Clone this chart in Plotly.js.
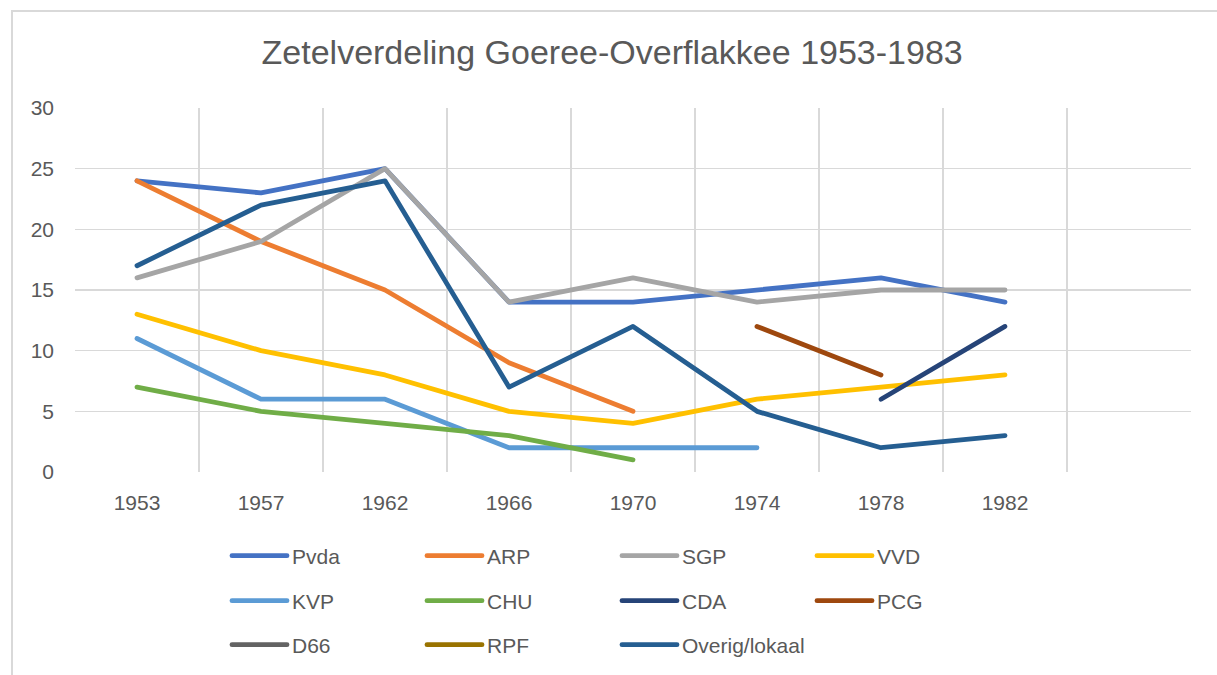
<!DOCTYPE html>
<html>
<head>
<meta charset="utf-8">
<script src="https://cdn.plot.ly/plotly-3.0.1.min.js"></script>
<style>
  html, body { margin: 0; padding: 0; background: #ffffff; }
  #frame { position: absolute; left: 11px; top: 10px; width: 1400px; height: 900px;
           border-left: 2px solid #D9D9D9; border-top: 2px solid #D9D9D9; z-index: 0; }
  #chart { position: absolute; left: 0; top: 0; width: 1217px; height: 675px; z-index: 1; }
  #chart path.js-line { stroke-linecap: round !important; stroke-linejoin: round !important; }
</style>
</head>
<body>
<div id="frame"></div>
<div id="chart"></div>
<script>
// ---- data ----
const years = ['1953', '1957', '1962', '1966', '1970', '1974', '1978', '1982'];
const pvda   = [24, 23, 25, 14, 14, 15, 16, 14];
const arp    = [24, 19, 15, 9, 5, null, null, null];
const sgp    = [16, 19, 25, 14, 16, 14, 15, 15];
const vvd    = [13, 10, 8, 5, 4, 6, 7, 8];
const kvp    = [11, 6, 6, 2, 2, 2, null, null];
const chu    = [7, 5, 4, 3, 1, null, null, null];
const cda    = [null, null, null, null, null, null, 6, 12];
const pcg    = [null, null, null, null, null, 12, 8, null];
const d66    = [null, null, null, null, null, null, null, null];
const rpf    = [null, null, null, null, null, null, null, null];
const overig = [17, 22, 24, 7, 12, 5, 2, 3];

const seriesNames = ['Pvda', 'ARP', 'SGP', 'VVD', 'KVP', 'CHU', 'CDA', 'PCG', 'D66', 'RPF', 'Overig/lokaal'];
const seriesValues = [pvda, arp, sgp, vvd, kvp, chu, cda, pcg, d66, rpf, overig];
const seriesColors = ['#4472C4', '#ED7D31', '#A5A5A5', '#FFC000', '#5B9BD5', '#70AD47',
                      '#264478', '#9E480E', '#636363', '#997300', '#255E91'];

const xIndex = years.map((_, i) => i);   // category slots on the x axis

const legendKey = k => (k === 0 ? 'legend' : 'legend' + (k + 1));

const traces = seriesNames.map((name, k) => ({
  type: 'scatter',
  mode: 'lines',
  name: name,
  x: xIndex,
  y: seriesValues[k],
  connectgaps: false,
  line: { color: seriesColors[k], width: 4.8 },
  legend: legendKey(k),
  hoverinfo: 'skip'
}));

const txt = '#595959';
const baseFont = 'Liberation Sans, Arial, sans-serif';

// plot-area geometry in pixels (used to place legend entries in a 4-column grid)
const M = { l: 75, r: 26, t: 108, b: 203 };
const plotW = 1217 - M.l - M.r, plotH = 675 - M.t - M.b;
const colPx = [232, 427, 622, 817];
const rowPx = [556, 601, 645];

const layout = {
  width: 1217, height: 675,
  margin: { l: M.l, r: M.r, t: M.t, b: M.b, pad: 0, autoexpand: false },
  paper_bgcolor: 'rgba(0,0,0,0)',
  plot_bgcolor: 'rgba(0,0,0,0)',
  font: { family: baseFont, color: txt },
  title: {
    text: 'Zetelverdeling Goeree-Overflakkee 1953-1983',
    font: { family: baseFont, size: 34, color: txt },
    x: 0.503, xref: 'container', xanchor: 'center',
    y: 1 - 52 / 675, yref: 'container', yanchor: 'middle'
  },
  xaxis: {
    range: [-0.5, 8.5],
    tickmode: 'array',
    tickvals: xIndex,
    ticktext: years,
    showgrid: false,
    zeroline: false,
    showline: false,
    ticks: '',
    ticklabelstandoff: 16,
    tickfont: { family: baseFont, size: 21, color: txt },
    minor: { tick0: -0.5, dtick: 1, showgrid: true, gridcolor: '#D9D9D9', gridwidth: 1.5, ticks: '' },
    fixedrange: true
  },
  yaxis: {
    range: [0, 30],
    tick0: 0, dtick: 5,
    showgrid: true, gridcolor: '#D9D9D9', gridwidth: 1.5,
    zeroline: false,
    showline: false,
    ticks: '',
    ticklabelstandoff: 20,
    tickfont: { family: baseFont, size: 21, color: txt },
    fixedrange: true
  },
  showlegend: true,
  hovermode: false
};

seriesNames.forEach((_, k) => {
  const col = k % 4, row = Math.floor(k / 4);
  layout[legendKey(k)] = {
    orientation: 'v',
    x: (colPx[col] - 5 - M.l) / plotW, xanchor: 'left',
    y: (675 - M.b - rowPx[row]) / plotH, yanchor: 'middle',
    itemwidth: 55,
    font: { family: baseFont, size: 21, color: txt },
    bgcolor: 'rgba(0,0,0,0)',
    borderwidth: 0,
    itemclick: false, itemdoubleclick: false
  };
});

Plotly.newPlot('chart', traces, layout, { displayModeBar: false, staticPlot: true });
</script>
</body>
</html>
